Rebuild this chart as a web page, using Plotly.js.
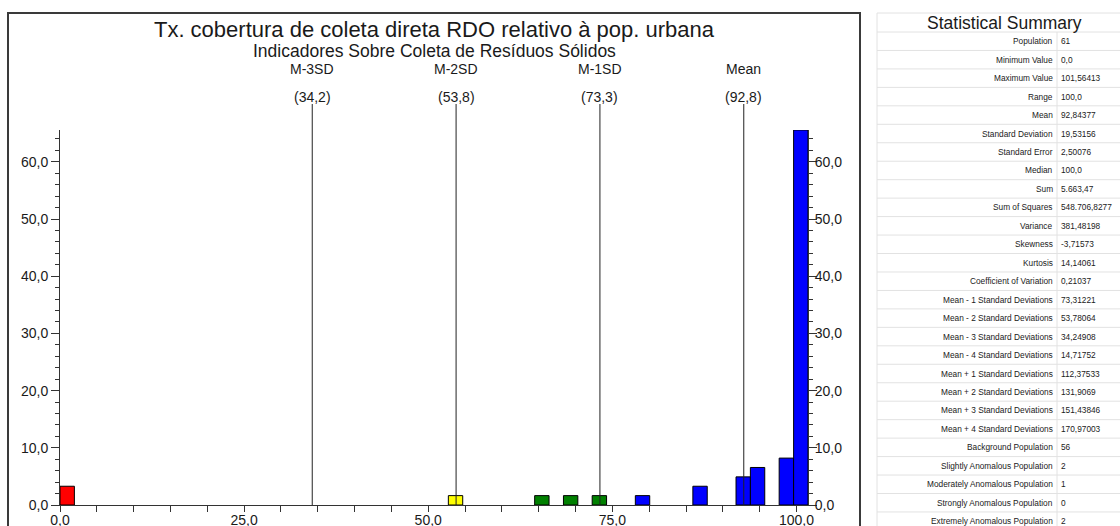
<!DOCTYPE html>
<html>
<head>
<meta charset="utf-8">
<script src="https://cdn.plot.ly/plotly-3.0.1.min.js"></script>
<style>
  html, body { margin: 0; padding: 0; background: #fff; }
  #chart { width: 1120px; height: 526px; }
</style>
</head>
<body>
<div id="chart"></div>
<script>
// ---------- DATA ----------
const chartTitle = "Tx. cobertura de coleta direta RDO relativo à pop. urbana";
const chartSubtitle = "Indicadores Sobre Coleta de Resíduos Sólidos";

const xMax = 101.56413;
const binWidth = 1.9531;
const binLow = [0.0, 52.73, 64.45, 68.36, 72.26, 78.12, 85.93, 91.79, 93.74, 97.65, 99.61];
const binPercent = [3.28, 1.64, 1.64, 1.64, 1.64, 1.64, 3.28, 4.92, 6.56, 8.20, 65.57];
const binClass = ["extreme", "moderate", "slight", "slight", "slight",
                  "background", "background", "background", "background", "background", "background"];

const sdValues = [34.24908, 53.78064, 73.31221, 92.84377];
const sdLabels = ["M-3SD", "M-2SD", "M-1SD", "Mean"];

const xTickVals = [0, 25, 50, 75, 100];

const statLabels = [
  "Population", "Minimum Value", "Maximum Value", "Range", "Mean",
  "Standard Deviation", "Standard Error", "Median", "Sum", "Sum of Squares",
  "Variance", "Skewness", "Kurtosis", "Coefficient of Variation",
  "Mean - 1 Standard Deviations", "Mean - 2 Standard Deviations",
  "Mean - 3 Standard Deviations", "Mean - 4 Standard Deviations",
  "Mean + 1 Standard Deviations", "Mean + 2 Standard Deviations",
  "Mean + 3 Standard Deviations", "Mean + 4 Standard Deviations",
  "Background Population", "Slightly Anomalous Population",
  "Moderately Anomalous Population", "Strongly Anomalous Population",
  "Extremely Anomalous Population"
];
const statValues = [
  "61", "0,0", "101,56413", "100,0", "92,84377",
  "19,53156", "2,50076", "100,0", "5.663,47", "548.706,8277",
  "381,48198", "-3,71573", "14,14061", "0,21037",
  "73,31221", "53,78064", "34,24908", "14,71752",
  "112,37533", "131,9069", "151,43846", "170,97003",
  "56", "2", "1", "0", "2"
];

// ---------- STYLE ----------
const classColor = { extreme: "#ff0000", strong: "#ff8000", moderate: "#ffff00", slight: "#008000", background: "#0000ff" };
const FONT = "Liberation Sans, Arial, sans-serif";
const TXT = "#1a1a1a";
const AX = "#333333";

// plot area in pixels: x 60..808, y 130..505
const PL = 60, PR = 808, PT = 130, PB = 505;
const px = x => (x - PL) / (PR - PL);
const py = y => (PB - y) / (PB - PT);

const fmt1 = v => v.toFixed(1).replace(".", ",");

const traces = [
  {
    type: "bar",
    x: binLow,
    y: binPercent,
    offset: 0,
    width: binWidth,
    marker: { color: binClass.map(c => classColor[c]), line: { color: "#000", width: 1 } },
    hoverinfo: "skip"
  },
  { type: "scatter", mode: "none", x: [null], y: [null], yaxis: "y2", hoverinfo: "skip" }
];

const shapes = [];
const annotations = [];

// frame
shapes.push({ type: "rect", xref: "paper", yref: "paper",
  x0: px(8), x1: px(860), y0: py(540), y1: py(13),
  line: { color: "#3a3a3a", width: 2 }, layer: "below" });

// SD lines + labels
sdValues.forEach((v, i) => {
  shapes.push({ type: "line", xref: "x", yref: "paper", x0: v, x1: v, y0: 0, y1: py(104),
    line: { color: "#222", width: 1 }, layer: "above" });
  annotations.push({ xref: "x", yref: "paper", x: v, y: py(69), text: sdLabels[i],
    showarrow: false, xanchor: "center", yanchor: "middle", font: { size: 14, color: TXT } });
  annotations.push({ xref: "x", yref: "paper", x: v, y: py(97), text: "(" + fmt1(v) + ")",
    showarrow: false, xanchor: "center", yanchor: "middle", font: { size: 14, color: TXT } });
});

// subtitle
annotations.push({ xref: "paper", yref: "paper", x: 0.5, y: py(51), text: chartSubtitle,
  showarrow: false, xanchor: "center", yanchor: "middle", font: { size: 17.5, color: TXT } });

// statistical summary table
const TL = 877, TRr = 1125, TT = 13, ROW0 = 32, RH = 18.46, COLX = 1057;
const gridColor = "#e2e2e2";
shapes.push({ type: "line", xref: "paper", yref: "paper", x0: px(TL), x1: px(TRr), y0: py(TT), y1: py(TT), line: { color: gridColor, width: 1 } });
for (let i = 0; i <= statLabels.length; i++) {
  const y = ROW0 + i * RH;
  shapes.push({ type: "line", xref: "paper", yref: "paper", x0: px(TL), x1: px(TRr), y0: py(y), y1: py(y), line: { color: gridColor, width: 1 } });
}
shapes.push({ type: "line", xref: "paper", yref: "paper", x0: px(TL), x1: px(TL), y0: py(TT), y1: py(540), line: { color: gridColor, width: 1 } });
shapes.push({ type: "line", xref: "paper", yref: "paper", x0: px(COLX), x1: px(COLX), y0: py(ROW0), y1: py(540), line: { color: gridColor, width: 1 } });

annotations.push({ xref: "paper", yref: "paper", x: px(1004), y: py(22.5), text: "Statistical Summary",
  showarrow: false, xanchor: "center", yanchor: "middle", font: { size: 17.5, color: TXT } });
statLabels.forEach((lab, i) => {
  const y = ROW0 + (i + 0.5) * RH;
  annotations.push({ xref: "paper", yref: "paper", x: px(COLX - 2), y: py(y), text: lab,
    showarrow: false, xanchor: "right", yanchor: "middle", font: { size: 8.3, color: TXT } });
  annotations.push({ xref: "paper", yref: "paper", x: px(COLX + 2), y: py(y), text: statValues[i],
    showarrow: false, xanchor: "left", yanchor: "middle", font: { size: 8.3, color: TXT } });
});

const yRange = [0, Math.max(...binPercent)];

const layout = {
  width: 1120, height: 526,
  margin: { l: PL, r: 1120 - PR, t: PT, b: 526 - PB, pad: 0 },
  paper_bgcolor: "#fff", plot_bgcolor: "#fff",
  showlegend: false,
  separators: ",.",
  font: { family: FONT, color: TXT },
  title: { text: chartTitle, x: 0.5, xref: "paper", xanchor: "center",
    y: 1 - 29 / 526, yref: "container", yanchor: "middle", font: { size: 22, color: TXT } },
  xaxis: {
    range: [0, xMax], tickvals: xTickVals, tickformat: ".1f",
    ticks: "outside", ticklen: 6, tickcolor: AX, tickwidth: 1,
    minor: { dtick: 5, tick0: 0, ticks: "outside", ticklen: 6, tickcolor: AX },
    showline: true, linecolor: AX, linewidth: 1, showgrid: false, zeroline: false,
    tickfont: { size: 14, color: TXT }, ticklabelstandoff: -4, fixedrange: true
  },
  yaxis: {
    range: yRange, dtick: 10, tick0: 0, tickformat: ".1f",
    ticks: "outside", ticklen: 8, tickcolor: AX,
    minor: { dtick: 2, ticks: "outside", ticklen: 4, tickcolor: AX },
    showline: true, linecolor: AX, linewidth: 1, showgrid: false, zeroline: false,
    tickfont: { size: 14, color: TXT }, fixedrange: true
  },
  yaxis2: {
    overlaying: "y", side: "right", anchor: "x",
    range: yRange, dtick: 10, tick0: 0, tickformat: ".1f",
    ticks: "outside", ticklen: 8, tickcolor: AX,
    minor: { dtick: 2, ticks: "outside", ticklen: 4, tickcolor: AX },
    showline: true, linecolor: AX, linewidth: 1, showgrid: false, zeroline: false,
    tickfont: { size: 14, color: TXT }, ticklabelstandoff: -5, fixedrange: true
  },
  shapes: shapes,
  annotations: annotations
};

Plotly.newPlot("chart", traces, layout, { displayModeBar: false, staticPlot: true });
</script>
</body>
</html>
